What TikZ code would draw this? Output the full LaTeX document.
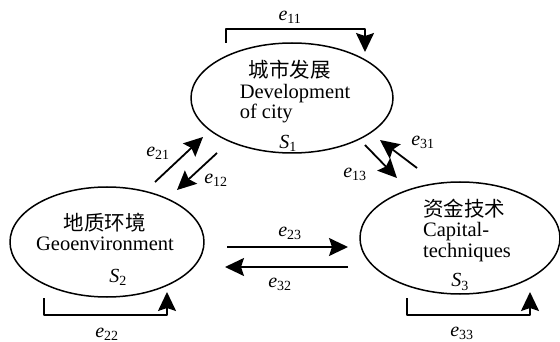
\documentclass[tikz,border=0pt]{standalone}
\usepackage{fontspec}
\setmainfont{Liberation Serif}
\newfontfamily\cjk{Noto Sans CJK SC}
\usetikzlibrary{shapes.geometric,arrows.meta,positioning}
\newcommand\ee[1]{\textit{e}\textsubscript{#1}}
\newcommand\Sn[1]{\textit{S}\textsubscript{#1}}
\tikzset{
  sys/.style={draw, ellipse, line width=1.5pt, minimum width=202pt, minimum height=110pt, inner sep=0pt},
  arr/.style={line width=1.8pt, -{Stealth[length=19pt,width=18pt,inset=3pt]}},
  lbl/.style={font=\fontsize{20.5}{20.5}\selectfont, inner sep=0pt},
  elab/.style={font=\fontsize{20}{20}\selectfont, inner sep=0pt}
}
\begin{document}
\begin{tikzpicture}[x=1pt, y=-1pt, line join=round]
\useasboundingbox (0,0) rectangle (560,342);
% the three subsystems
\node[sys] (city) at (292,98) {};
\node[sys, minimum width=194pt] (geo) at (107,242) {};
\node[sys, minimum width=200pt, minimum height=112pt] (cap) at (460,238) {};
\node[lbl, align=left] (cityt) at (295,92) {\hspace*{9pt}{\cjk 城市发展}\\Development\\of city};
\node[lbl, align=center] (geot) at (105,232) {{\cjk 地质环境}\\Geoenvironment};
\node[lbl, align=left] (capt) at (467,230) {{\cjk 资金技术}\\Capital-\\techniques};
\node[elab] (s1) at (288,143) {\Sn{1}};
\node[elab] (s2) at (118,277) {\Sn{2}};
\node[elab] (s3) at (460,282) {\Sn{3}};
% arrow ends
\coordinate (p21a) at (155,182); \coordinate (p21b) at (203,137);
\coordinate (p12a) at (217,153); \coordinate (p12b) at (177,190);
\coordinate (p13a) at (365,145); \coordinate (p13b) at (397,178);
\coordinate (p31a) at (417,168); \coordinate (p31b) at (380,140);
\coordinate (p23a) at (227,247); \coordinate (p23b) at (348,247);
\coordinate (p32a) at (348,267); \coordinate (p32b) at (225,267);
\coordinate (p11a) at (226,43);  \coordinate (p11b) at (365,52);
\coordinate (p22a) at (44,298);  \coordinate (p22b) at (167,292);
\coordinate (p33a) at (407,298); \coordinate (p33b) at (530,292);
% interactions
\draw[arr] (p21a) -- (p21b);
\draw[arr] (p12a) -- (p12b);
\draw[arr] (p13a) -- (p13b);
\draw[arr] (p31a) -- (p31b);
\draw[arr] (p23a) -- (p23b);
\draw[arr] (p32a) -- (p32b);
\draw[arr] (p11a) |- (365,29) -- (p11b);
\draw[arr] (p22a) |- (167,315) -- (p22b);
\draw[arr] (p33a) |- (530,315) -- (p33b);
\node[elab] (l11) at (290,17) {\ee{11}};
\node[elab] (l21) at (158,153) {\ee{21}};
\node[elab] (l12) at (216,180) {\ee{12}};
\node[elab] (l13) at (355,174) {\ee{13}};
\node[elab] (l31) at (423,142) {\ee{31}};
\node[elab] (l23) at (290,233) {\ee{23}};
\node[elab] (l32) at (280,284) {\ee{32}};
\node[elab] (l22) at (107,334) {\ee{22}};
\node[elab] (l33) at (462,333) {\ee{33}};
\end{tikzpicture}
\end{document}
